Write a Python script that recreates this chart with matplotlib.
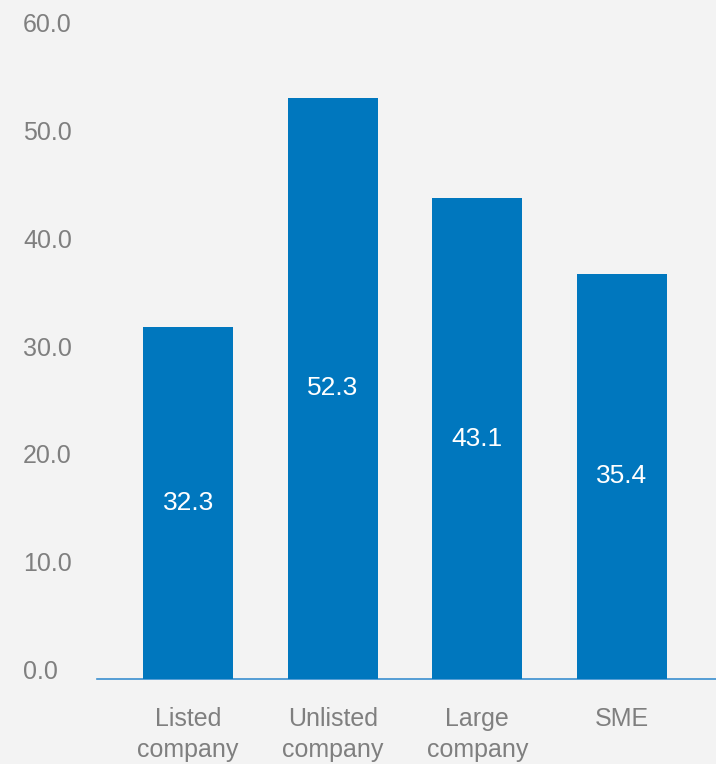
import matplotlib
matplotlib.use('Agg')
import matplotlib.pyplot as plt
import numpy as np

# Data (bar heights, labels as printed)
categories = ['Listed\ncompany', 'Unlisted\ncompany', 'Large\ncompany', 'SME']
heights = [32.6, 53.9, 44.6, 37.6]
value_labels = ['32.3', '52.3', '43.1', '35.4']
yticks = [0, 10, 20, 30, 40, 50, 60]

BG = '#F3F3F3'
BLUE = '#0077BE'
AXIS_BLUE = '#3A8FD0'
GREY = '#7F7F7F'

plt.rcParams['font.family'] = ['Liberation Sans', 'DejaVu Sans']

fig = plt.figure(figsize=(7.16, 7.64), dpi=100, facecolor=BG)
ax = fig.add_axes([97 / 716, 85 / 764, 619 / 716, 647 / 764], facecolor=BG)

x = np.arange(len(categories))
ax.bar(x, heights, width=0.623, color=BLUE, zorder=2)

# value labels in the middle of each bar
for i, (h, lab) in enumerate(zip(heights, value_labels)):
    ax.text(i, h / 2, lab, ha='center', va='center', color='white', fontsize=19, zorder=3)

ax.set_xlim(-0.63, 3.65)
ax.set_ylim(0, 60)

ax.set_yticks(yticks)
ax.set_yticklabels([f'{v:.1f}' for v in yticks])
ax.tick_params(axis='y', length=0, pad=53.3, labelsize=18, labelcolor=GREY)
for lab in ax.get_yticklabels():
    lab.set_horizontalalignment('left')
    lab.set_verticalalignment('baseline')

ax.set_xticks(x)
ax.set_xticklabels(categories, linespacing=1.38)
ax.tick_params(axis='x', length=0, pad=20, labelsize=18, labelcolor=GREY)

for s in ['top', 'right', 'left']:
    ax.spines[s].set_visible(False)
ax.spines['bottom'].set_color(AXIS_BLUE)
ax.spines['bottom'].set_linewidth(1.2)
ax.spines['bottom'].set_zorder(1)

fig.savefig('out.png', dpi=100, facecolor=BG)
